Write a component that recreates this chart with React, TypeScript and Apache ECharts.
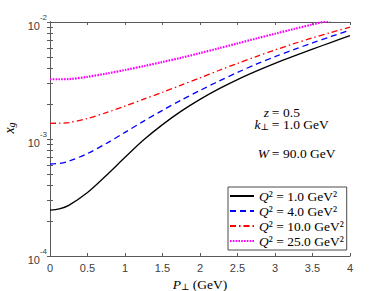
import React, { useEffect, useRef } from "react";
import * as echarts from "echarts";

// Transverse momentum P_perp (GeV)
const pPerp = [0, 0.125, 0.25, 0.5, 0.75, 1.0, 1.25, 1.5, 1.75, 2.0, 2.25, 2.5, 2.75, 3.0, 3.25, 3.5, 3.75, 4.0];

// x_g for each Q^2
const xgQ1 = [2.47e-4, 2.53e-4, 2.71e-4, 3.49e-4, 4.88e-4, 6.97e-4, 9.84e-4, 1.327e-3, 1.73e-3, 2.18e-3, 2.68e-3, 3.22e-3, 3.8e-3, 4.43e-3, 5.11e-3, 5.86e-3, 6.7e-3, 7.64e-3];
const xgQ4 = [6.11e-4, 6.19e-4, 6.46e-4, 7.52e-4, 9.16e-4, 1.14e-3, 1.422e-3, 1.758e-3, 2.15e-3, 2.6e-3, 3.12e-3, 3.71e-3, 4.36e-3, 5.06e-3, 5.81e-3, 6.62e-3, 7.52e-3, 8.51e-3];
const xgQ10 = [1.36e-3, 1.366e-3, 1.38e-3, 1.496e-3, 1.679e-3, 1.91e-3, 2.19e-3, 2.51e-3, 2.89e-3, 3.33e-3, 3.85e-3, 4.43e-3, 5.07e-3, 5.77e-3, 6.52e-3, 7.31e-3, 8.15e-3, 9.04e-3];
const xgQ25 = [3.24e-3, 3.24e-3, 3.25e-3, 3.4e-3, 3.62e-3, 3.89e-3, 4.2e-3, 4.55e-3, 4.95e-3, 5.42e-3, 5.96e-3, 6.56e-3, 7.23e-3, 7.94e-3, 8.71e-3, 9.53e-3, 1.04e-2, 1.132e-2];

const q2Labels = ["1.0", "4.0", "10.0", "25.0"];
const seriesNames = ["Q2=1", "Q2=4", "Q2=10", "Q2=25"];

// axis
const xMin = 0;
const xMax = 4;
const xStep = 0.5;
const yMin = 1e-4;
const yMax = 1e-2;
const decades = [1e-4, 1e-3];
const mantissas = [1, 2, 3, 4, 5, 6, 7, 8, 9];

const SERIF = "'Liberation Serif', 'DejaVu Serif', serif";
const SANS = "'Liberation Sans', Arial, sans-serif";

export default function App() {
  const ref = useRef<HTMLDivElement>(null);
  useEffect(() => {
    if (!ref.current) return;
    const chart = echarts.init(ref.current, undefined, { renderer: "svg" });
    const tickVals: number[] = [];
    decades.forEach((d) => mantissas.forEach((m) => tickVals.push(+(d * m).toPrecision(3))));
    tickVals.push(yMax);
    const majorVals = [1e-4, 1e-3, 1e-2];

    const axisColor = "#5a5a5a";
    const labelColor = "#404040";

    const mk = (ys: number[]) => pPerp.map((p, i) => [p, ys[i]]);
    const styles = [
      { color: "#000000", width: 1.3, type: "solid" as any },
      { color: "#0000ff", width: 1.3, type: [6, 4] as any },
      { color: "#ff0000", width: 1.3, type: [6, 3, 1.5, 3] as any },
      { color: "#ff00ff", width: 2.2, type: [1.6, 1.2] as any },
    ];
    const dataSets = [xgQ1, xgQ4, xgQ10, xgQ25];

    const option: any = {
      animation: false,
      grid: { left: 50, right: 38, top: 22, bottom: 35, containLabel: false, outerBoundsMode: "none" },
      xAxis: [
        {
          type: "value",
          min: xMin,
          max: xMax,
          interval: xStep,
          position: "bottom",
          axisLine: { show: true, lineStyle: { color: axisColor, width: 1 } },
          axisTick: { show: true, inside: true, length: 3, lineStyle: { color: axisColor } },
          axisLabel: { color: labelColor, fontSize: 11, fontFamily: SANS, margin: 6 },
          splitLine: { show: false },
          name: "{i|P}{s|⊥}{r| (GeV)}",
          nameLocation: "middle",
          nameGap: 17,
          nameTextStyle: {
            rich: {
              i: { fontFamily: SERIF, fontStyle: "italic", fontSize: 13.5, color: "#000" },
              s: { fontFamily: SERIF, fontSize: 9, color: "#000", verticalAlign: "bottom", padding: [4, 0, 0, 0] },
              r: { fontFamily: SERIF, fontSize: 13.5, color: "#000" },
            },
          },
        },
        {
          type: "value",
          min: xMin,
          max: xMax,
          interval: xStep,
          position: "top",
          axisLine: { show: true, lineStyle: { color: axisColor, width: 1 } },
          axisTick: { show: true, inside: true, length: 3, lineStyle: { color: axisColor } },
          axisLabel: { show: false },
          splitLine: { show: false },
        },
      ],
      yAxis: [
        {
          type: "log",
          logBase: 10,
          min: yMin,
          max: yMax,
          position: "left",
          axisLine: { show: true, lineStyle: { color: axisColor, width: 1 } },
          axisTick: { show: true, inside: true, length: 3, lineStyle: { color: axisColor }, customValues: tickVals },
          axisLabel: {
            customValues: majorVals,
            margin: 3,
            formatter: (v: number) => `{b|10}{e|${Math.round(Math.log10(v))}}`,
            rich: {
              b: { fontSize: 11, fontFamily: SANS, color: labelColor, lineHeight: 18, verticalAlign: "bottom" },
              e: { fontSize: 8, fontFamily: SANS, color: labelColor, lineHeight: 9, verticalAlign: "top" },
            },
          },
          splitLine: { show: false },
          name: "{i|x}{s|g}",
          nameLocation: "middle",
          nameGap: 27,
          nameRotate: 90,
          nameTextStyle: {
            padding: [0, 0, 0, 22],
            rich: {
              i: { fontFamily: SERIF, fontStyle: "italic", fontSize: 14, color: "#000" },
              s: { fontFamily: SERIF, fontStyle: "italic", fontSize: 10, color: "#000", verticalAlign: "bottom", padding: [5, 0, 0, 0] },
            },
          },
        },
        {
          type: "log",
          logBase: 10,
          min: yMin,
          max: yMax,
          position: "right",
          axisLine: { show: true, lineStyle: { color: axisColor, width: 1 } },
          axisTick: { show: true, inside: true, length: 3, lineStyle: { color: axisColor }, customValues: tickVals },
          axisLabel: { show: false },
          splitLine: { show: false },
        },
      ],
      legend: {
        show: true,
        orient: "vertical",
        left: 228,
        top: 187,
        padding: [2, 3, 2, 1],
        itemGap: 1,
        itemWidth: 24,
        itemHeight: 10,
        itemIconTextGap: 2,
        itemStyle: { opacity: 0 },
        backgroundColor: "#ffffff",
        borderColor: "#4a4a4a",
        borderWidth: 1,
        borderRadius: 0,
        data: seriesNames,
        formatter: (name: string) => {
          const i = seriesNames.indexOf(name);
          return `{i|Q}{r|² = ${q2Labels[i]} GeV²}`;
        },
        textStyle: {
          lineHeight: 14,
          rich: {
            i: { fontFamily: SERIF, fontStyle: "italic", fontSize: 13.5, color: "#000", lineHeight: 14 },
            r: { fontFamily: SERIF, fontSize: 13.5, color: "#000", lineHeight: 14 },
          },
        },
      },
      graphic: [
        ...[
          { lhs: "{i|z}", rhs: "0.5", y: 112 },
          { lhs: "{i|k}{s|⊥}", rhs: "1.0 GeV", y: 124.5 },
          { lhs: "{i|W}", rhs: "90.0 GeV", y: 153 },
        ].flatMap((row) => [
          {
            type: "text",
            style: {
              x: 269,
              y: row.y,
              text: row.lhs,
              align: "right",
              verticalAlign: "middle",
              rich: {
                i: { fontFamily: SERIF, fontStyle: "italic", fontSize: 13.5, fill: "#000" },
                s: { fontFamily: SERIF, fontSize: 9, fill: "#000", verticalAlign: "bottom", padding: [2, 0, 0, 0] },
              },
            },
          },
          {
            type: "text",
            style: { x: 275.5, y: row.y, text: "=", align: "center", verticalAlign: "middle", font: `13.5px ${SERIF}`, fill: "#000" },
          },
          {
            type: "text",
            style: { x: 283, y: row.y, text: row.rhs, align: "left", verticalAlign: "middle", font: `13.5px ${SERIF}`, fill: "#000" },
          },
        ]),
      ],
      series: dataSets.map((ys, i) => ({
        name: seriesNames[i],
        type: "line",
        xAxisIndex: 0,
        yAxisIndex: 0,
        data: mk(ys),
        smooth: 0.3,
        symbol: "none",
        clip: true,
        lineStyle: styles[i],
        itemStyle: { color: styles[i].color },
      })),
    };
    chart.setOption(option);
    return () => chart.dispose();
  }, []);
  return <div ref={ref} style={{ position: "fixed", left: 0, top: 0, width: 388, height: 291, background: "#fff" }} />;
}
